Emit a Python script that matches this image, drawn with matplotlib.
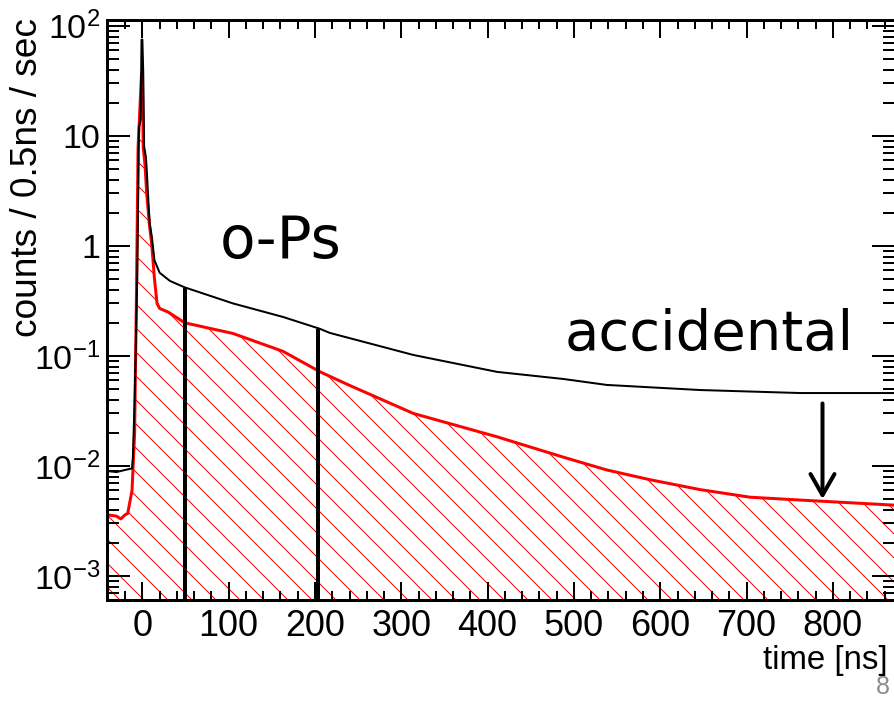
import matplotlib
matplotlib.use('Agg')
import matplotlib.pyplot as plt
from matplotlib.ticker import FixedLocator, LogLocator, MultipleLocator, NullFormatter

plt.rcParams['font.family'] = ['Liberation Sans', 'DejaVu Sans']
plt.rcParams['mathtext.fontset'] = 'custom'
plt.rcParams['mathtext.rm'] = 'Liberation Sans'
plt.rcParams['mathtext.default'] = 'regular'
plt.rcParams['hatch.linewidth'] = 1.0

# total spectrum (black)
t_black = [-41, -30, -20, -12, -11, -9, -6, -4, -2, -1, 0, 1, 2, 4, 5, 7, 8.5, 11, 14, 20, 32, 49,
           105, 163, 206, 217, 314, 411, 488, 538, 646, 762, 872]
n_black = [0.0090, 0.0088, 0.0092, 0.0095, 0.012, 0.04, 0.5, 12, 14, 75, 75, 37, 8, 6.5, 5, 2.5, 1.6, 1.2, 0.74, 0.57, 0.48, 0.42,
           0.30, 0.226, 0.176, 0.162, 0.102, 0.0716, 0.0617, 0.0545, 0.049, 0.046, 0.046]

# selected spectrum (red, hatched)
t_red = [-41, -30, -25, -20, -17, -12, -9, -7, -5, -1, 0, 1, 3, 5, 8, 11, 14, 17, 20, 30, 49,
         105, 163, 206, 240, 314, 411, 488, 538, 588, 646, 704, 762, 872]
n_red = [0.0036, 0.0035, 0.0033, 0.0036, 0.0037, 0.006, 0.02, 0.3, 7.8, 37, 37, 7.8, 5.5, 3, 1.6, 1.0, 0.5, 0.3, 0.27, 0.25, 0.20,
         0.16, 0.11, 0.0716, 0.054, 0.030, 0.0184, 0.012, 0.0092, 0.0075, 0.0061, 0.0052, 0.0049, 0.0044]

# o-Ps window lines and accidental arrow
window_t = [49, 204]
window_top = [0.415, 0.176]
arrow_t = 788
arrow_from, arrow_to = 0.037, 0.005

ytick_vals = [1e-3, 1e-2, 1e-1, 1, 10, 100]
ytick_labels = ['$10^{-3}$', '$10^{-2}$', '$10^{-1}$', '1', '10', '$10^{2}$']

W, H = 894, 705
fig = plt.figure(figsize=(W / 72, H / 72), dpi=72)
ax = fig.add_axes([107 / W, 105 / H, (895 - 107) / W, 580 / H])

ax.fill_between(t_red, n_red, 1e-6, facecolor='none', edgecolor='red', hatch='\\', linewidth=0)
ax.plot(t_red, n_red, color='red', lw=3)
ax.plot(t_black, n_black, color='black', lw=2)

for t, top in zip(window_t, window_top):
    ax.plot([t, t], [1e-4, top], color='black', lw=4, solid_capstyle='butt')

ax.annotate('', xy=(arrow_t, arrow_to), xytext=(arrow_t, arrow_from),
            arrowprops=dict(arrowstyle='->,head_length=0.7,head_width=0.4', lw=4, color='black',
                            mutation_scale=30, shrinkA=0, shrinkB=0))

ax.set_yscale('log')
ax.set_xlim(-41, 872)
ax.set_ylim(6.05e-4, 113)

ax.xaxis.set_major_locator(MultipleLocator(100))
ax.xaxis.set_minor_locator(MultipleLocator(20))
ax.yaxis.set_major_locator(FixedLocator(ytick_vals))
ax.set_yticklabels(ytick_labels)
ax.yaxis.set_minor_locator(LogLocator(base=10, subs=range(2, 10)))
ax.yaxis.set_minor_formatter(NullFormatter())

ax.tick_params(which='both', direction='in', top=True, right=True, width=2)
ax.tick_params(axis='x', which='major', length=18, pad=9, labelsize=36)
ax.tick_params(axis='x', which='minor', length=9)
ax.tick_params(axis='y', which='major', length=23, pad=7, labelsize=34)
ax.tick_params(axis='y', which='minor', length=12)
for s in ax.spines.values():
    s.set_linewidth(3)

ax.text(160, 0.78, 'o-Ps', fontsize=58, family='DejaVu Sans', ha='center', va='baseline')
ax.text(657, 0.113, 'accidental', fontsize=56, family='DejaVu Sans', ha='center', va='baseline')

fig.text(888 / W, 1 - 669 / H, 'time [ns]', ha='right', va='baseline', fontsize=33)
fig.text(28 / W, 1 - 18 / H, 'counts / 0.5ns / sec', rotation=90, ha='center', va='top', fontsize=37)
fig.text(876 / W, 1 - 675 / H, '8', color='#8c8c8c', fontsize=25, ha='left', va='top')

fig.savefig('out.png', dpi=72)
